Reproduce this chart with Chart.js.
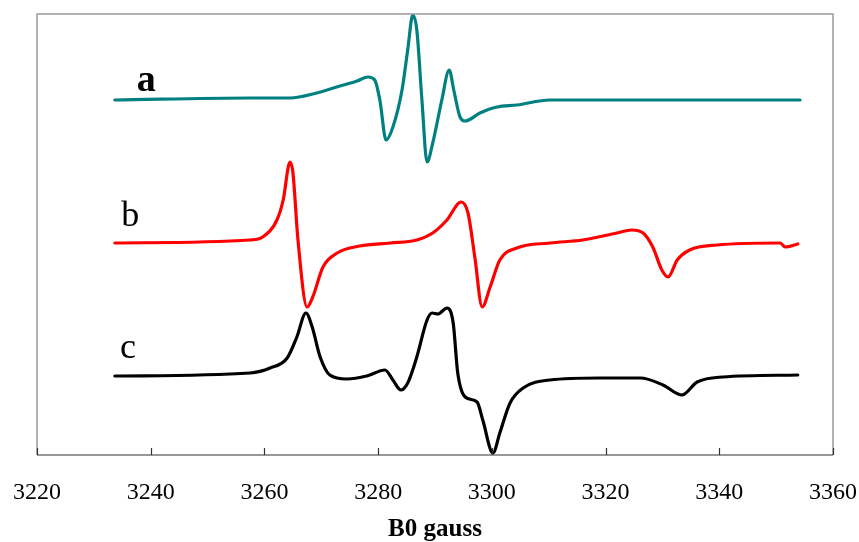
<!DOCTYPE html>
<html>
<head>
<meta charset="utf-8">
<script src="https://cdn.jsdelivr.net/npm/chart.js@4/dist/chart.umd.min.js"></script>
<style>
  html, body { margin: 0; padding: 0; background: #fff; }
  #wrap { width: 859px; height: 542px; }
</style>
</head>
<body>
<div id="wrap"><canvas id="chart"></canvas></div>
<script>
// EPR spectra, field in gauss, intensity in arbitrary units (curves offset)
const fieldA = [3233.7, 3257.5, 3264.5, 3269.2, 3273.3, 3276.3, 3278.2, 3279.4, 3280.3, 3281.4, 3282.6, 3284.2, 3285.2, 3286.1, 3286.8, 3287.7, 3288.6, 3289.6, 3291.2, 3292.5, 3293.3, 3294.4, 3295.3, 3297.9, 3300.9, 3304.4, 3310.2, 3320.0, 3354.2]
const signalA = [355, 357, 357, 362, 369, 374, 378, 375, 355, 315, 328, 365, 405, 440, 425, 355, 293, 312, 355, 385, 365, 338, 334, 342, 348, 350, 355, 355, 355]

const fieldB = [3233.7, 3257.5, 3259.7, 3262.2, 3263.3, 3264.5, 3265.0, 3265.9, 3267.5, 3268.5, 3270.3, 3272.8, 3276.8, 3282.1, 3286.8, 3289.6, 3292.1, 3294.6, 3295.8, 3297.0, 3298.3, 3299.7, 3301.4, 3304.4, 3310.2, 3316.0, 3322.0, 3324.6, 3326.6, 3328.3, 3329.9, 3331.0, 3332.6, 3334.8, 3339.6, 3350.7, 3351.6, 3353.8]
const signalB = [212, 215, 218, 235, 255, 293, 283, 215, 148, 158, 188, 202, 209, 212, 215, 222, 235, 253, 242, 198, 148, 168, 195, 207, 212, 215, 222, 225, 222, 208, 185, 178, 195, 205, 210, 212, 208, 211]

const fieldC = [3233.7, 3257.5, 3261.0, 3264.0, 3265.7, 3267.3, 3268.4, 3269.8, 3271.5, 3274.5, 3278.0, 3281.2, 3282.6, 3284.0, 3285.2, 3286.8, 3288.6, 3289.5, 3290.5, 3292.1, 3293.2, 3294.0, 3295.3, 3297.4, 3298.4, 3300.2, 3301.4, 3303.2, 3305.5, 3310.2, 3319.0, 3326.1, 3330.1, 3333.4, 3336.1, 3340.6, 3353.8]
const signalC = [79, 82, 87, 97, 118, 142, 128, 98, 80, 76, 79, 85, 75, 65, 72, 98, 135, 142, 141, 147, 132, 82, 58, 53, 35, 2, 22, 52, 67, 75, 77, 77, 70, 60, 73, 78, 80]

const xTicks = [3220, 3240, 3260, 3280, 3300, 3320, 3340, 3360]

function pts(xs, ys) {
    return xs.map((x, i) => ({ x: x, y: ys[i] }))
}

// frame, inner tick marks and curve labels
const decor = {
    id: 'decor',
    afterDraw(chart) {
        const ctx = chart.ctx
        const a = chart.chartArea
        const xs = chart.scales.x
        const ys = chart.scales.y
        ctx.save()
        ctx.strokeStyle = '#9a9a9a'
        ctx.lineWidth = 1.5
        ctx.beginPath()
        ctx.moveTo(a.left, a.bottom)
        ctx.lineTo(a.left, a.top)
        ctx.lineTo(a.right, a.top)
        ctx.lineTo(a.right, a.bottom)
        ctx.stroke()
        ctx.strokeStyle = '#333'
        ctx.lineWidth = 1.2
        ctx.beginPath()
        ctx.moveTo(a.left, a.bottom)
        ctx.lineTo(a.right, a.bottom)
        xTicks.forEach(t => {
            const px = Math.round(xs.getPixelForValue(t)) + 0.5
            ctx.moveTo(px, a.bottom)
            ctx.lineTo(px, a.bottom - 7)
        })
        ctx.stroke()

        ctx.fillStyle = '#000'
        ctx.textAlign = 'center'
        ctx.textBaseline = 'middle'
        ctx.font = 'bold 38px "Liberation Serif"'
        ctx.fillText('a', xs.getPixelForValue(3239.2), ys.getPixelForValue(374))
        ctx.font = '36px "Liberation Serif"'
        ctx.fillText('b', xs.getPixelForValue(3236.4), ys.getPixelForValue(238))
        ctx.fillText('c', xs.getPixelForValue(3236.0), ys.getPixelForValue(106))
        ctx.restore()
    }
}

new Chart(document.getElementById('chart'), {
    type: 'line',
    data: {
        datasets: [
            { label: 'a', data: pts(fieldA, signalA), borderColor: '#008080', borderWidth: 3.2 },
            { label: 'b', data: pts(fieldB, signalB), borderColor: '#ff0000', borderWidth: 3.2 },
            { label: 'c', data: pts(fieldC, signalC), borderColor: '#000000', borderWidth: 3.2 }
        ]
    },
    options: {
        responsive: true,
        maintainAspectRatio: false,
        animation: false,
        layout: { padding: { left: 37, right: 26, top: 14, bottom: 0 } },
        elements: {
            point: { radius: 0 },
            line: { cubicInterpolationMode: 'monotone', borderCapStyle: 'round', borderJoinStyle: 'round' }
        },
        plugins: { legend: { display: false }, tooltip: { enabled: false } },
        scales: {
            x: {
                type: 'linear',
                min: 3220,
                max: 3360,
                afterBuildTicks: s => { s.ticks = xTicks.map(v => ({ value: v })) },
                afterFit: s => { s.paddingLeft = 0; s.paddingRight = 0 },
                grid: { display: false, drawTicks: false },
                border: { display: false },
                ticks: {
                    color: '#000',
                    padding: 26,
                    font: { family: 'Liberation Serif', size: 24, lineHeight: 1 },
                    callback: v => String(v)
                },
                title: {
                    display: true,
                    text: 'B0 gauss',
                    color: '#000',
                    padding: { top: -14, bottom: 0 },
                    font: { family: 'Liberation Serif', size: 25, weight: 'bold', lineHeight: 1 }
                }
            },
            y: {
                min: 0,
                max: 441,
                display: false
            }
        }
    },
    plugins: [decor]
})
</script>
</body>
</html>
